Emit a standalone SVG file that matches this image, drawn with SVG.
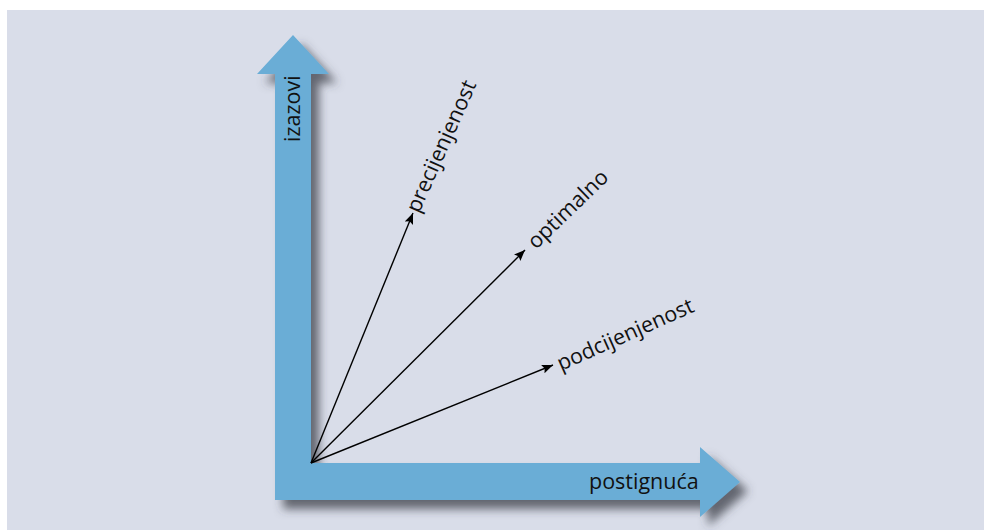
<svg xmlns="http://www.w3.org/2000/svg" width="984" height="530" viewBox="0 0 984 530">
  <style>
    .lbl { font-family: "Open Sans", "Noto Sans", "Liberation Sans", sans-serif; font-size: 21.5px; fill: #111; }
    .ray { stroke: #000; stroke-width: 1.4; fill: none; marker-end: url(#tip); }
  </style>
  <defs>
    <filter id="shade" x="-20%" y="-20%" width="140%" height="140%">
      <feGaussianBlur in="SourceAlpha" stdDeviation="5"/>
      <feOffset dx="8" dy="9" result="b"/>
      <feFlood flood-color="#3c3f48" flood-opacity="0.75"/>
      <feComposite in2="b" operator="in"/>
      <feMerge><feMergeNode/><feMergeNode in="SourceGraphic"/></feMerge>
    </filter>
    <marker id="tip" viewBox="0 0 11 9" refX="11" refY="4.5" markerWidth="11" markerHeight="9" markerUnits="userSpaceOnUse" orient="auto">
      <path d="M0,0 L11,4.5 L0,9 L2,4.5 Z" fill="#000"/>
    </marker>
  </defs>

  <!-- panel -->
  <rect x="7" y="10" width="977" height="520" fill="#d9dde9"/>

  <!-- L-shaped axis arrows -->
  <g id="axes" filter="url(#shade)">
    <path d="M275,500 L275,74 L257,74 L293,35 L329,74 L311,74 L311,463 L700,463 L700,447 L740,482 L700,517 L700,500 Z" fill="#6aadd6"/>
  </g>

  <g id="axis-y">
    <text class="lbl" transform="translate(300,142) rotate(-90)">izazovi</text>
  </g>
  <g id="axis-x">
    <text class="lbl" x="589" y="489">postignuća</text>
  </g>

  <!-- rays from the origin -->
  <g id="connectors">
    <line class="ray" x1="311" y1="463" x2="413" y2="213"/>
    <line class="ray" x1="311" y1="463" x2="525" y2="250"/>
    <line class="ray" x1="311" y1="463" x2="553" y2="365"/>
  </g>

  <g id="precijenjenost">
    <text class="lbl" transform="translate(419,214) rotate(-66)">precijenjenost</text>
  </g>
  <g id="optimalno">
    <text class="lbl" transform="translate(536,250) rotate(-44)">optimalno</text>
  </g>
  <g id="podcijenjenost">
    <text class="lbl" transform="translate(561,371) rotate(-24)">podcijenjenost</text>
  </g>
</svg>
